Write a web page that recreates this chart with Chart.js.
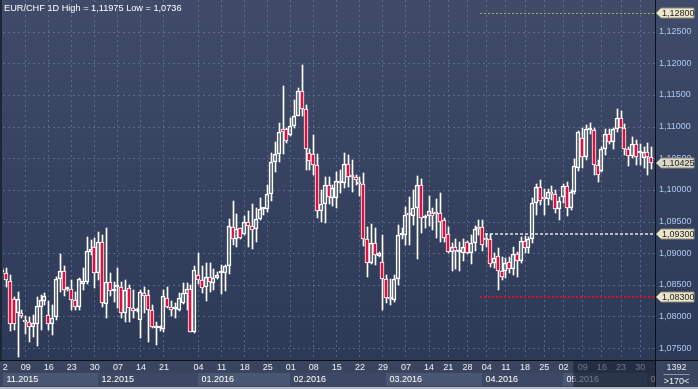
<!DOCTYPE html>
<html>
<head>
<meta charset="utf-8">
<script src="https://cdn.jsdelivr.net/npm/chart.js"></script>
<style>
  html, body { margin: 0; padding: 0; background: #2e3a56; }
</style>
</head>
<body>
<canvas id="chart" width="698" height="389"></canvas>
<script>
// EUR/CHF daily candles, 02.11.2015 .. 03.06.2016 (170 bars)
const openP = [
  1.0870,1.0869,1.0856,1.0828,1.0805,1.0806,1.0794,1.0791,1.0783,1.0788,
  1.0815,1.0824,1.0802,1.0788,1.0799,1.0859,1.0872,1.0843,1.0843,1.0826,
  1.0815,1.0851,1.0855,1.0902,1.0910,1.0868,1.0917,1.0820,1.0855,1.0840,
  1.0847,1.0846,1.0805,1.0845,1.0813,1.0809,1.0794,1.0837,1.0834,1.0810,
  1.0782,1.0781,1.0780,1.0829,1.0815,1.0811,1.0810,1.0821,1.0835,1.0843,
  1.0776,1.0866,1.0857,1.0846,1.0862,1.0853,1.0860,1.0869,1.0869,1.0879,
  1.0942,1.0922,1.0939,1.0931,1.0950,1.0943,1.0938,1.0954,1.0970,1.0969,
  1.0993,1.1044,1.1057,1.1096,1.1096,1.1086,1.1101,1.1117,1.1156,1.1127,
  1.1058,1.1057,1.1039,1.0966,1.0977,1.1007,1.0987,1.0987,1.1011,1.1011,
  1.1041,1.1021,1.1021,1.1013,1.1010,1.0922,1.0885,1.0916,1.0896,1.0886,
  1.0859,1.0828,1.0826,1.0859,1.0928,1.0928,1.0961,1.0959,1.0971,1.1008,
  1.0956,1.0959,1.0963,1.0963,1.0963,1.0952,1.0931,1.0902,1.0909,1.0902,
  1.0901,1.0917,1.0901,1.0916,1.0942,1.0942,1.0922,1.0922,1.0884,1.0896,
  1.0872,1.0872,1.0886,1.0875,1.0898,1.0888,1.0920,1.0908,1.0922,1.0980,
  1.1004,1.0987,1.0986,1.0997,1.0993,1.0970,1.0988,1.1006,1.0972,1.0996,
  1.1034,1.1082,1.1052,1.1095,1.1095,1.1039,1.1030,1.1064,1.1089,1.1076,
  1.1096,1.1114,1.1098,1.1064,1.1054,1.1072,1.1059,1.1051,1.1060,1.1052
];
const highP = [
  1.0877,1.0877,1.0866,1.0831,1.0839,1.0810,1.0801,1.0799,1.0803,1.0831,
  1.0834,1.0837,1.0824,1.0818,1.0863,1.0898,1.0879,1.0847,1.0858,1.0839,
  1.0860,1.0876,1.0926,1.0921,1.0924,1.0934,1.0929,1.0939,1.0868,1.0855,
  1.0877,1.0855,1.0858,1.0850,1.0842,1.0813,1.0842,1.0846,1.0842,1.0818,
  1.0792,1.0785,1.0842,1.0846,1.0825,1.0821,1.0837,1.0853,1.0853,1.0850,
  1.0880,1.0900,1.0880,1.0884,1.0884,1.0875,1.0870,1.0881,1.0882,1.0954,
  1.0982,1.0962,1.0940,1.0959,1.0966,1.0977,1.0972,1.0987,1.0972,1.1007,
  1.1058,1.1075,1.1105,1.1164,1.1098,1.1114,1.1142,1.1161,1.11975,1.1134,
  1.1065,1.1087,1.1056,1.1000,1.1021,1.1020,1.1008,1.1029,1.1031,1.1059,
  1.1055,1.1047,1.1024,1.1020,1.1026,1.0942,1.0946,1.0939,1.0902,1.0929,
  1.0866,1.0859,1.0866,1.0945,1.0939,1.0973,1.0988,1.1000,1.1022,1.1017,
  1.0961,1.0990,1.0971,1.0985,1.0995,1.0955,1.0941,1.0916,1.0922,1.0918,
  1.0922,1.0919,1.0929,1.0943,1.0952,1.0952,1.0931,1.0931,1.0900,1.0908,
  1.0894,1.0893,1.0894,1.0909,1.0902,1.0926,1.0927,1.0926,1.0987,1.1009,
  1.1016,1.1001,1.1001,1.1006,1.1000,1.0989,1.1010,1.1012,1.1000,1.1049,
  1.1093,1.1097,1.1102,1.1105,1.1097,1.1047,1.1068,1.1096,1.1096,1.1098,
  1.1128,1.1124,1.1104,1.1068,1.1084,1.1079,1.1072,1.1068,1.1074,1.1068
];
const lowP = [
  1.0867,1.0847,1.0777,1.0779,1.0736,1.0798,1.0773,1.0759,1.0767,1.0754,
  1.0778,1.0818,1.0779,1.0771,1.0794,1.0839,1.0833,1.0841,1.0810,1.0810,
  1.0810,1.0842,1.0851,1.0897,1.0845,1.0858,1.0815,1.0798,1.0832,1.0823,
  1.0813,1.0798,1.0792,1.0792,1.0797,1.0807,1.0766,1.0805,1.0760,1.0781,
  1.0755,1.0777,1.0775,1.0814,1.0800,1.0798,1.0809,1.0820,1.0810,1.0775,
  1.0774,1.0852,1.0837,1.0824,1.0838,1.0842,1.0859,1.0835,1.0840,1.0867,
  1.0913,1.0910,1.0922,1.0929,1.0909,1.0907,1.0918,1.0952,1.0961,1.0965,
  1.0982,1.1028,1.1044,1.1056,1.1074,1.1085,1.1097,1.1116,1.1116,1.1031,
  1.1031,1.1024,1.0956,1.0949,1.0947,1.0978,1.0975,1.0972,1.0995,1.1003,
  1.1005,1.0996,1.1008,1.0990,1.0911,1.0862,1.0883,1.0881,1.0894,1.0810,
  1.0821,1.0818,1.0823,1.0850,1.0922,1.0913,1.0913,1.0945,1.0890,1.0932,
  1.0939,1.0943,1.0937,1.0924,1.0918,1.0917,1.0901,1.0872,1.0875,1.0872,
  1.0887,1.0899,1.0883,1.0904,1.0929,1.0904,1.0910,1.0878,1.0876,1.0842,
  1.0858,1.0861,1.0868,1.0866,1.0863,1.0884,1.0900,1.0901,1.0916,1.0961,
  1.0976,1.0960,1.0976,1.0984,1.0963,1.0952,1.0979,1.0958,1.0968,1.0993,
  1.1030,1.1035,1.1047,1.1089,1.1024,1.1013,1.1028,1.1055,1.1072,1.1065,
  1.1092,1.1097,1.1055,1.1037,1.1050,1.1039,1.1039,1.1034,1.1024,1.1033
];
const closeP = [
  1.0873,1.0858,1.0788,1.0788,1.0828,1.0801,1.0791,1.0783,1.0789,1.0817,
  1.0826,1.0832,1.0788,1.0797,1.0859,1.0872,1.0842,1.0844,1.0826,1.0815,
  1.0859,1.0856,1.0903,1.0907,1.0868,1.0917,1.0821,1.0855,1.0841,1.0841,
  1.0848,1.0805,1.0842,1.0813,1.0809,1.0810,1.0839,1.0833,1.0810,1.0784,
  1.0783,1.0782,1.0832,1.0815,1.0810,1.0812,1.0829,1.0837,1.0843,1.0776,
  1.0873,1.0857,1.0845,1.0862,1.0854,1.0860,1.0866,1.0870,1.0880,1.0943,
  1.0922,1.0938,1.0924,1.0949,1.0943,1.0936,1.0954,1.0969,1.0971,1.0993,
  1.1044,1.1057,1.1091,1.1091,1.1077,1.1101,1.1117,1.1156,1.1127,1.1064,
  1.1046,1.1039,1.0966,1.0977,1.1007,1.0988,1.1003,1.1014,1.1014,1.1041,
  1.1020,1.1020,1.1016,1.1010,1.0922,1.0885,1.0916,1.0897,1.0900,1.0859,
  1.0829,1.0827,1.0859,1.0929,1.0929,1.0961,1.0960,1.0971,1.1008,1.0956,
  1.0957,1.0967,1.0959,1.0962,1.0950,1.0924,1.0902,1.0909,1.0903,1.0903,
  1.0910,1.0900,1.0916,1.0938,1.0938,1.0913,1.0921,1.0883,1.0893,1.0872,
  1.0863,1.0884,1.0875,1.0898,1.0888,1.0920,1.0908,1.0922,1.0980,1.1005,
  1.0982,1.0985,1.0997,1.0993,1.0970,1.0982,1.1006,1.0972,1.0996,1.1037,
  1.1091,1.1052,1.1096,1.1096,1.1039,1.1024,1.1064,1.1089,1.1076,1.1096,
  1.1114,1.1098,1.1064,1.1054,1.1072,1.1052,1.1060,1.1060,1.1052,1.10425
];

// axis labels (bar index of each labelled day / first bar of each month)
const dayIdx  = [0,6,12,18,24,30,36,42,51,57,63,69,75,81,87,93,99,105,111,116,121,126,131,136,141,146,151,156,161,166];
const dayText = ['02','09','16','23','30','07','14','21','04','11','18','25','01','08','15','22','29','07','14','21','28','04','11','18','25','02','09','16','23','30'];
const monthIdx  = [0,25,51,75,100,125,146,168];
const monthText = ['11.2015','12.2015','01.2016','02.2016','03.2016','04.2016','05.2016','06.2016'];
const priceTicks = [1.075,1.080,1.085,1.090,1.095,1.100,1.105,1.110,1.115,1.120,1.125];

// horizontal levels drawn from April on
const levelPrices = [1.128, 1.093, 1.083];
const levelFrom = 124.4;
const lastPrice = 1.10425;
const shadeFrom = 148.7;
const titleText = 'EUR/CHF 1D High = 1,11975 Low = 1,0736';
const barCount = 1392, visibleBars = 170;

const RED = '#dc123c';
const FONT = '9px "Liberation Sans", Arial, sans-serif';
const fmt = v => v.toFixed(5).replace('.', ',');

const idx = openP.map((_, i) => i);
const bodyData  = idx.map(i => ({ x: i, y: [openP[i], closeP[i]] }));
const upperData = idx.map(i => ({ x: i, y: [Math.max(openP[i], closeP[i]), highP[i]] }));
const lowerData = idx.map(i => ({ x: i, y: [lowP[i], Math.min(openP[i], closeP[i])] }));
const bodyFill  = idx.map(i => closeP[i] < openP[i] ? RED : 'rgba(0,0,0,0)');

function seg(ctx, x1, y1, x2, y2) {
  ctx.beginPath(); ctx.moveTo(x1, y1); ctx.lineTo(x2, y2); ctx.stroke();
}

function tag(ctx, py, text, fill) {
  const x0 = 656, x1 = 694;
  ctx.beginPath();
  ctx.moveTo(x0, py); ctx.lineTo(x0 + 5, py - 5); ctx.lineTo(x1, py - 5);
  ctx.lineTo(x1, py + 5); ctx.lineTo(x0 + 5, py + 5); ctx.closePath();
  ctx.fillStyle = fill; ctx.fill();
  ctx.strokeStyle = '#8e8c7a'; ctx.lineWidth = 1; ctx.stroke();
  ctx.fillStyle = '#1c1c1c'; ctx.textAlign = 'left';
  ctx.fillText(text, x0 + 6, py + 0.5);
}

// snap candle parts to whole pixels so they stay crisp
const snap = {
  id: 'snap',
  beforeDatasetsDraw(chart) {
    chart.data.datasets.forEach((ds, d) => {
      const wick = ds.barThickness === 1;
      chart.getDatasetMeta(d).data.forEach(el => {
        el.x = Math.round(el.x) + (wick ? 0.5 : 0);
        el.y = Math.round(el.y);
        el.base = Math.round(el.base);
      });
    });
  }
};

const frame = {
  id: 'frame',
  beforeDraw(chart) {
    const { ctx, chartArea: a, scales: { x, y } } = chart;
    const W = chart.width, H = chart.height;
    ctx.save();
    const g = ctx.createLinearGradient(0, 0, 0, a.bottom);
    g.addColorStop(0, '#3f4b69');
    g.addColorStop(1, '#2c3957');
    ctx.fillStyle = g;
    ctx.fillRect(0, 0, W, a.bottom);
    ctx.fillStyle = '#39445f';
    ctx.fillRect(0, a.bottom, W, H - a.bottom);

    // dashed grid
    ctx.strokeStyle = 'rgba(120,136,168,0.55)';
    ctx.lineWidth = 1;
    ctx.setLineDash([2, 3]);
    priceTicks.forEach(p => {
      const py = Math.round(y.getPixelForValue(p)) + 0.5;
      seg(ctx, a.left, py, a.right, py);
    });
    dayIdx.forEach(i => {
      const px = Math.round(x.getPixelForValue(i)) + 0.5;
      if (px > a.left) seg(ctx, px, a.top, px, a.bottom);
    });

    // level lines
    const lx = x.getPixelForValue(levelFrom);
    const styles = [
      { c: '#98b450', w: 1, d: [2, 2] },
      { c: '#b9bcc4', w: 2, d: [3, 2] },
      { c: '#d8102e', w: 2, d: [2, 2] }
    ];
    levelPrices.forEach((p, k) => {
      const py = Math.round(y.getPixelForValue(p)) + (styles[k].w === 1 ? 0.5 : 0);
      ctx.strokeStyle = styles[k].c; ctx.lineWidth = styles[k].w; ctx.setLineDash(styles[k].d);
      seg(ctx, lx, py, a.right, py);
    });
    ctx.restore();
  },
  afterDraw(chart) {
    const { ctx, chartArea: a, scales: { x, y } } = chart;
    const W = chart.width, H = chart.height;
    ctx.save();
    ctx.font = FONT;
    ctx.textBaseline = 'middle';

    // title
    ctx.fillStyle = '#ffffff';
    ctx.font = '9.2px "Liberation Sans", Arial, sans-serif';
    ctx.fillText(titleText, 4, 8);
    ctx.font = FONT;

    // price axis
    const pg = ctx.createLinearGradient(0, 0, 0, a.bottom);
    pg.addColorStop(0, '#3f4b69');
    pg.addColorStop(1, '#2c3957');
    ctx.fillStyle = pg;
    ctx.fillRect(a.right, 0, W - a.right, a.bottom);
    ctx.fillStyle = '#a9cbf2';
    ctx.textAlign = 'left';
    priceTicks.forEach(p => ctx.fillText(fmt(p), a.right + 4, y.getPixelForValue(p)));

    tag(ctx, Math.round(y.getPixelForValue(levelPrices[0])), fmt(levelPrices[0]), '#ebe7cd');
    tag(ctx, Math.round(y.getPixelForValue(lastPrice)), fmt(lastPrice), '#d9d8cb');
    tag(ctx, Math.round(y.getPixelForValue(levelPrices[1])), fmt(levelPrices[1]), '#ebe7cd');
    tag(ctx, Math.round(y.getPixelForValue(levelPrices[2])), fmt(levelPrices[2]), '#ebe7cd');

    // time axis
    ctx.fillStyle = '#39445f';
    ctx.fillRect(0, a.bottom, W, H - a.bottom);
    ctx.save();
    ctx.beginPath(); ctx.rect(a.left, a.bottom, a.right - a.left, H - a.bottom); ctx.clip();
    monthIdx.forEach((m, k) => {
      const x0 = Math.max(1, Math.round(x.getPixelForValue(m)));
      const x1 = k + 1 < monthIdx.length ? Math.round(x.getPixelForValue(monthIdx[k + 1])) : a.right;
      ctx.fillStyle = k % 2 === 0 ? '#4a5772' : '#3d4964';
      ctx.fillRect(x0, 373, x1 - x0, 13);
      ctx.fillStyle = '#ffffff';
      ctx.textAlign = 'left';
      ctx.fillText(monthText[k], Math.max(x0, 3) + 3.5, 380);
    });
    ctx.fillStyle = '#f0f2f6';
    ctx.textAlign = 'center';
    dayIdx.forEach((i, k) => ctx.fillText(dayText[k], x.getPixelForValue(i) + 0.5, 367.5));
    // dimmed part of the time axis
    const sx = x.getPixelForValue(shadeFrom);
    ctx.fillStyle = 'rgba(22,30,48,0.6)';
    ctx.fillRect(sx, a.bottom + 1, a.right - sx, H - a.bottom - 3);
    ctx.restore();

    // corner box
    ctx.fillStyle = '#39445f';
    ctx.fillRect(a.right, a.bottom, W - a.right, H - a.bottom);
    ctx.fillStyle = '#e8ecf2';
    ctx.textAlign = 'center';
    const cx = (a.right + W) / 2;
    ctx.fillText(String(barCount), cx, 367.5);
    ctx.fillText('>' + visibleBars + '<', cx, 381.5);
    ctx.strokeStyle = '#8e98ac'; ctx.lineWidth = 1;
    seg(ctx, cx - 13, 374.5, cx + 13, 374.5);

    // separators and border
    ctx.strokeStyle = '#0c0f18';
    seg(ctx, a.right + 0.5, 0, a.right + 0.5, H);
    seg(ctx, 0, a.bottom + 0.5, W, a.bottom + 0.5);
    ctx.strokeStyle = '#1e2536'; ctx.lineWidth = 2;
    seg(ctx, 1, 0, 1, a.bottom);
    ctx.strokeStyle = '#b4bac6'; ctx.lineWidth = 2;
    seg(ctx, 0, H - 1, W, H - 1);
    ctx.restore();
  }
};

new Chart(document.getElementById('chart'), {
  type: 'bar',
  data: {
    datasets: [
      { data: upperData, backgroundColor: '#ffffff', borderWidth: 0, barThickness: 1, grouped: false, order: 3 },
      { data: lowerData, backgroundColor: '#ffffff', borderWidth: 0, barThickness: 1, grouped: false, order: 2 },
      { data: bodyData, backgroundColor: bodyFill, borderColor: '#ffffff', borderWidth: 1, borderSkipped: false,
        barThickness: 4, minBarLength: 2, grouped: false, order: 1 }
    ]
  },
  options: {
    responsive: false,
    animation: false,
    events: [],
    layout: { padding: { left: 3, right: 43, top: 0, bottom: 29 } },
    plugins: { legend: { display: false }, tooltip: { enabled: false } },
    scales: {
      x: { type: 'linear', min: 0.22, max: 169.96, offset: false, display: false },
      y: { min: 1.07312, max: 1.1300, display: false }
    }
  },
  plugins: [snap, frame]
});
</script>
</body>
</html>
